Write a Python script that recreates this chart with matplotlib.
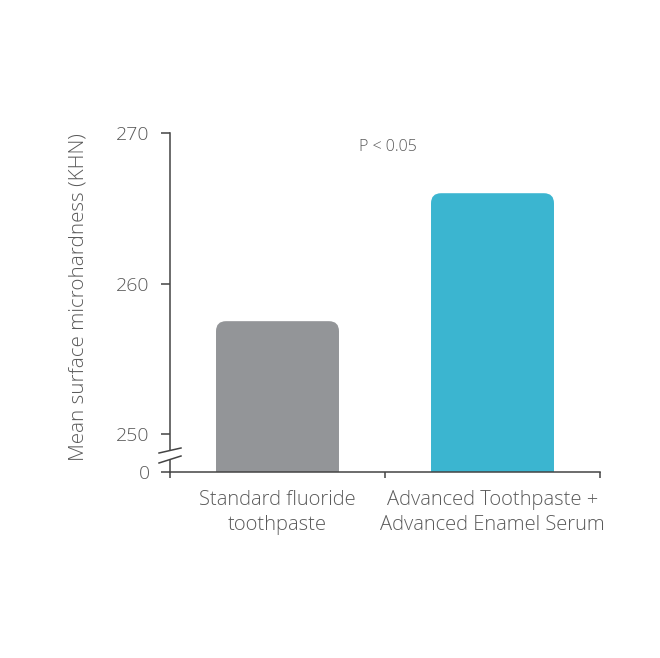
import matplotlib
matplotlib.use("Agg")
import matplotlib.pyplot as plt
from matplotlib.patches import FancyBboxPatch, Polygon
import numpy as np

categories = ["Standard fluoride\ntoothpaste", "Advanced Toothpaste +\nAdvanced Enamel Serum"]
values = [257.5, 266.0]
colors = ["#939598", "#3bb5d0"]
yticks = [0, 250, 260, 270]
annotation = "P < 0.05"
ylabel = "Mean surface microhardness (KHN)"

plt.rcParams['font.family'] = ['Open Sans', 'DejaVu Sans']
plt.rcParams['font.weight'] = 'light'
plt.rcParams['axes.labelweight'] = 'light'

TXT = "#5a5a5a"
AX = "#444444"

BREAK = 250.0
LOWSPAN = 2.52

def fwd(y):
    y = np.asarray(y, dtype=float)
    return np.where(y < BREAK, y * LOWSPAN / BREAK, y - BREAK + LOWSPAN)

def inv(t):
    t = np.asarray(t, dtype=float)
    return np.where(t < LOWSPAN, t * BREAK / LOWSPAN, t + BREAK - LOWSPAN)

fig = plt.figure(figsize=(6.6, 6.58), dpi=100)
ax = fig.add_axes([170/660, (658-472)/658, 430/660, 339/658])
ax.set_yscale('function', functions=(fwd, inv))
ax.set_ylim(0, 270)
ax.set_xlim(-0.5, 1.5)

x = np.arange(len(categories))
bars = ax.bar(x, values, width=0.572, color=colors)

# rounded top corners
r_px = 10
for b, c in zip(bars, colors):
    b.set_visible(False)
    bx, bw = b.get_x(), b.get_width()
    top = b.get_height()
    rx = r_px / 215.0
    aspect = (1/15.05) / (1/215.0)
    p = FancyBboxPatch((bx, -5), bw, top + 5,
                       boxstyle=f"round,pad=0,rounding_size={rx}",
                       mutation_aspect=aspect, facecolor=c, edgecolor='none',
                       zorder=2)
    ax.add_patch(p)

for s in ['top', 'right']:
    ax.spines[s].set_visible(False)
for s in ['left', 'bottom']:
    ax.spines[s].set_color(AX)
    ax.spines[s].set_linewidth(1.1)

ax.set_yticks(yticks)
ax.set_yticklabels([str(v) for v in yticks])
ax.tick_params(axis='y', length=6.5, width=1.1, color=AX, pad=8,
               labelsize=14, labelcolor=TXT)

ax.set_xticks(x)
ax.set_xticklabels(categories, linespacing=1.3)
ax.set_xticks([-0.5, 0.5, 1.5], minor=True)
ax.tick_params(axis='x', which='major', length=0, pad=13, labelsize=14.5, labelcolor=TXT)
ax.tick_params(axis='x', which='minor', length=4.5, width=1.1, color=AX)

ax.set_ylabel(ylabel, fontsize=14.8, color=TXT, fontweight='light')
ax.yaxis.set_label_coords(-0.19, 0.515)

ax.text(0.507, 0.958, annotation, transform=ax.transAxes, ha='center', va='center',
        fontsize=11.5, color=TXT)

# axis break marks
tr = ax.transAxes
dx = 11/430
u = [(-dx, 19/339), (dx, 24/339)]
l = [(-dx, 9/339), (dx, 16/339)]
gap = Polygon([u[0], u[1], l[1], l[0]], closed=True, transform=tr,
              facecolor='white', edgecolor='none', clip_on=False, zorder=5)
ax.add_patch(gap)
for seg in (u, l):
    ax.plot([seg[0][0], seg[1][0]], [seg[0][1], seg[1][1]], transform=tr,
            color=AX, lw=1.1, clip_on=False, zorder=6)

fig.savefig("out.png", dpi=100)
